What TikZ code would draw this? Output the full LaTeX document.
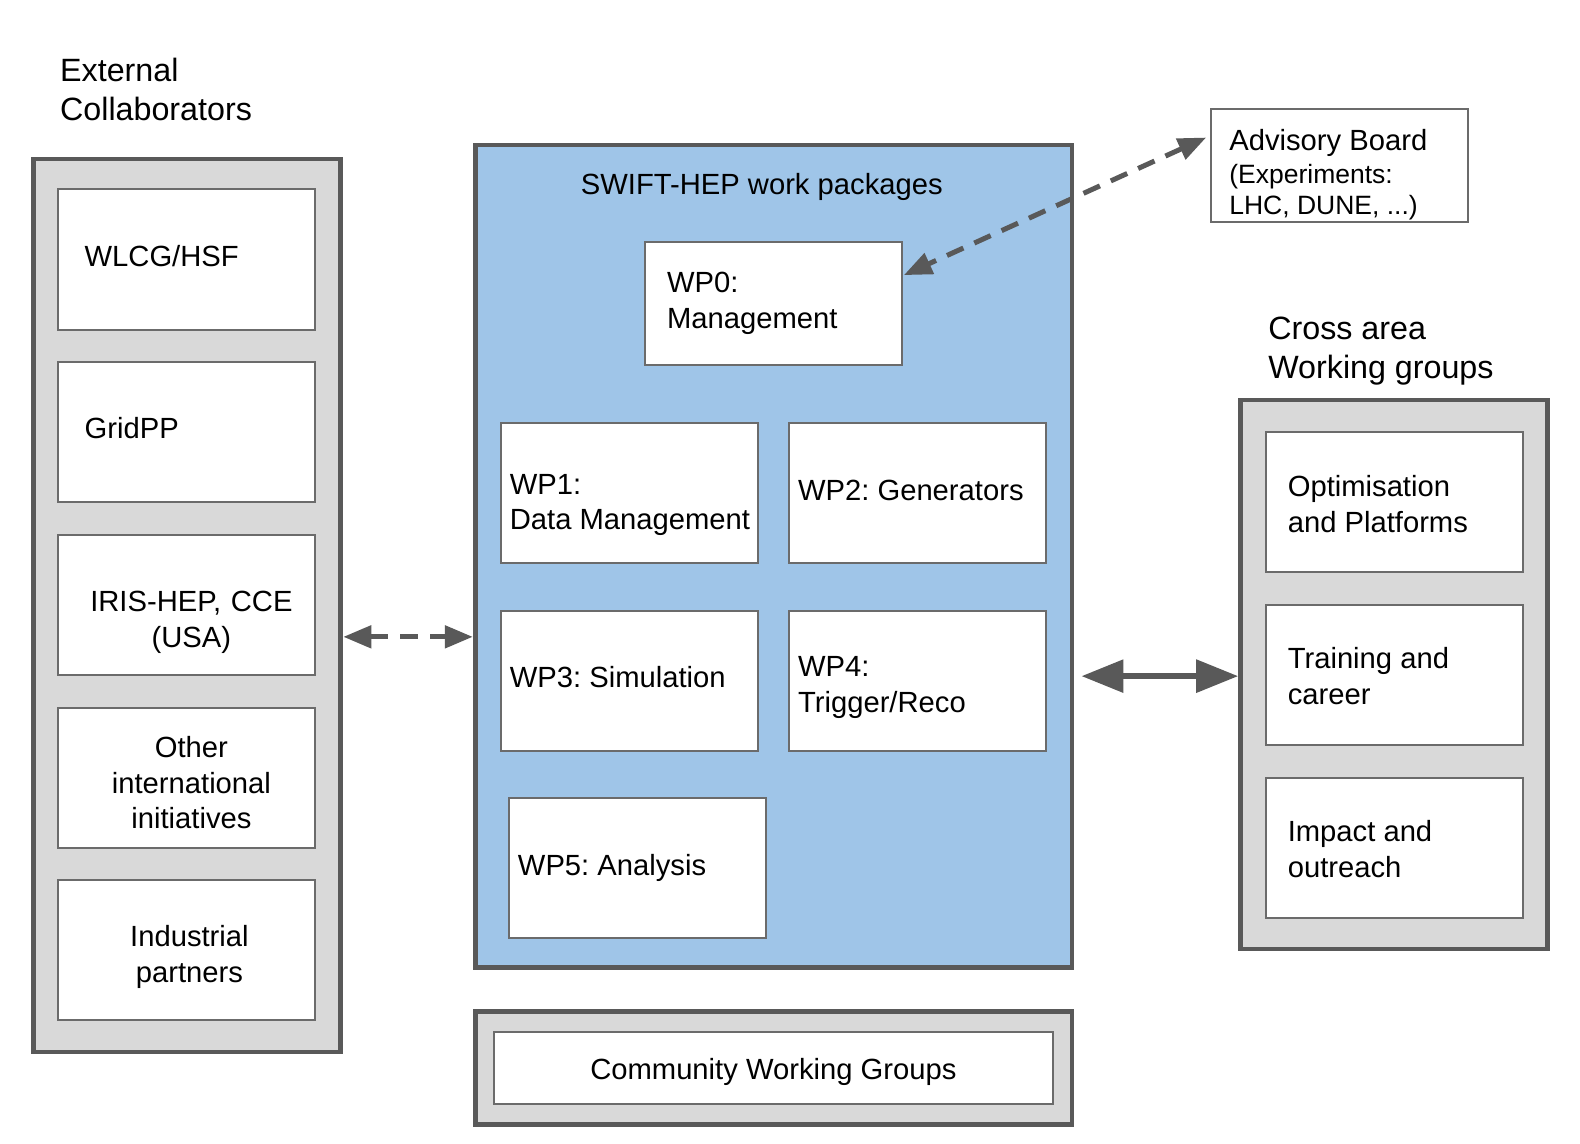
\documentclass[tikz,border=0pt]{standalone}
\usepackage{fontspec}
\setmainfont{Liberation Sans}
\usetikzlibrary{arrows.meta,calc}
\definecolor{frameC}{HTML}{595959}
\definecolor{boxC}{HTML}{6B6B6B}
\definecolor{panelC}{HTML}{D9D9D9}
\definecolor{swiftC}{HTML}{9FC5E8}
\tikzset{
  panel/.style={draw=frameC, line width=4.5pt, fill=panelC, inner sep=0pt, rectangle},
  item/.style={draw=boxC, line width=2pt, fill=white, rectangle, inner xsep=0pt, inner ysep=0pt,
     minimum width=257pt, minimum height=140.1pt, font=\fontsize{29.2}{35.8}\selectfont},
  lftA/.style={align=flush left, text width=204.6pt, inner xsep=26.2pt},
  lftB/.style={align=flush left, text width=212.6pt, inner xsep=22.2pt},
  lftC/.style={align=flush left, text width=238.8pt, inner xsep=9.1pt},
  ctr/.style={align=center, text width=237pt},
  head/.style={font=\fontsize{32.25}{39}\selectfont, align=flush left, text width=320pt, anchor=base west, inner sep=0pt},
  link/.style={draw=frameC, line width=5pt},
  dsh/.style={dash pattern=on 18pt off 12pt},
  smalltip/.style={{Triangle[length=28pt,width=22pt]}-{Triangle[length=28pt,width=22pt]}},
  bigtip/.style={{Triangle[length=42pt,width=32pt]}-{Triangle[length=42pt,width=32pt]}}
}
\begin{document}
\frenchspacing
\begin{tikzpicture}[x=1.0077pt,y=-1.0077pt]
\useasboundingbox (0,0) rectangle (1568,1135.3);

% headers
\node[head] (hext) at (59.5,81) {External\\Collaborators};
\node[head] (hcross) at (1258.5,337.4) {Cross area\\[-0.5pt]Working groups};

% left panel
\node[panel, minimum width=307.3pt, minimum height=892.8pt] (ext) at (185.5,601) {};
\node[item, lftA, text height=36.9pt, text depth=23.1pt] (wlcg) at (185.5,257.5) {WLCG/HSF};
\node[item, lftA, text height=36.4pt, text depth=23.6pt] (gridpp) at (185.5,429) {GridPP};
\node[item, ctr, text height=36.5pt, text depth=23.5pt] (iris) at (185.5,600.5) {\hspace*{9pt}IRIS-HEP, CCE\\\hspace*{9pt}(USA)};
\node[item, ctr, text height=9.4pt, text depth=50.6pt] (other) at (185.5,772) {\hspace*{9pt}Other\\\hspace*{9pt}international\\\hspace*{9pt}initiatives};
\node[item, ctr, text height=26.4pt, text depth=33.6pt] (indus) at (185.5,943) {\hspace*{5pt}Industrial\\\hspace*{5pt}partners};

% SWIFT-HEP panel
\node[panel, fill=swiftC, minimum width=596.6pt, minimum height=822.3pt] (swift) at (768,552) {};
\node[font=\fontsize{29.2}{35.8}\selectfont, anchor=base, inner sep=0pt] (swtitle) at (756,193.4) {SWIFT-HEP work packages};
\node[item, minimum height=122.9pt, lftB, text height=19.4pt, text depth=40.6pt] (wp0) at (767.5,301) {WP0:\\Management};
\node[item, lftC, text height=30.9pt, text depth=29.1pt] (wp1) at (624.5,489.5) {WP1:\\\mbox{Data Management}};
\node[item, lftC, text height=36.9pt, text depth=23.1pt] (wp2) at (910.5,489.5) {WP2: Generators};
\node[item, lftC, text height=36.9pt, text depth=23.1pt] (wp3) at (624.5,675.5) {WP3: Simulation};
\node[item, lftC, text height=25.9pt, text depth=34.1pt] (wp4) at (910.5,675.5) {WP4:\\Trigger/Reco};
\node[item, lftC, text height=36.9pt, text depth=23.1pt] (wp5) at (632.5,861.5) {WP5: Analysis};

% community panel
\node[panel, minimum width=596.6pt, minimum height=112.9pt] (commp) at (768,1060) {};
\node[item, minimum width=559.3pt, minimum height=72.6pt, text height=41.4pt, text depth=18.6pt] (comm) at (767.5,1060) {Community Working Groups};

% advisory board
\node[item, minimum height=112.9pt, align=flush left, text width=220.7pt, inner xsep=18.1pt,
      text height=15.5pt, text depth=44.5pt,
      font=\fontsize{26.5}{31.2}\selectfont] (ab) at (1329.5,164)
      {{\fontsize{29.2}{31.2}\selectfont Advisory Board}\\[1.5pt](Experiments:\\LHC, DUNE, ...)};

% cross area panel
\node[panel, minimum width=307.3pt, minimum height=549.2pt] (cross) at (1383.5,669.5) {};
\node[item, lftB, text height=23.9pt, text depth=36.1pt] (optim) at (1383.5,498.5) {Optimisation\\and Platforms};
\node[item, lftB, text height=23.9pt, text depth=36.1pt] (train) at (1383.5,669.5) {Training and\\career};
\node[item, lftB, text height=23.9pt, text depth=36.1pt] (impact) at (1383.5,841.5) {Impact and\\outreach};

% connectors
\draw[link, dsh, smalltip] ($(ext.east)+(0.5,31)$) -- ($(swift.west)+(-0.5,80)$);
\draw[link, line width=6pt, bigtip] ($(swift.east|-train.center)+(7,1.5)$) -- ($(cross.west|-train.center)+(0,1.5)$);
\draw[link, dsh, smalltip] ($(ab.north west)+(-4,29.5)$) -- ($(wp0.north east)+(1,34)$);
\end{tikzpicture}
\end{document}
